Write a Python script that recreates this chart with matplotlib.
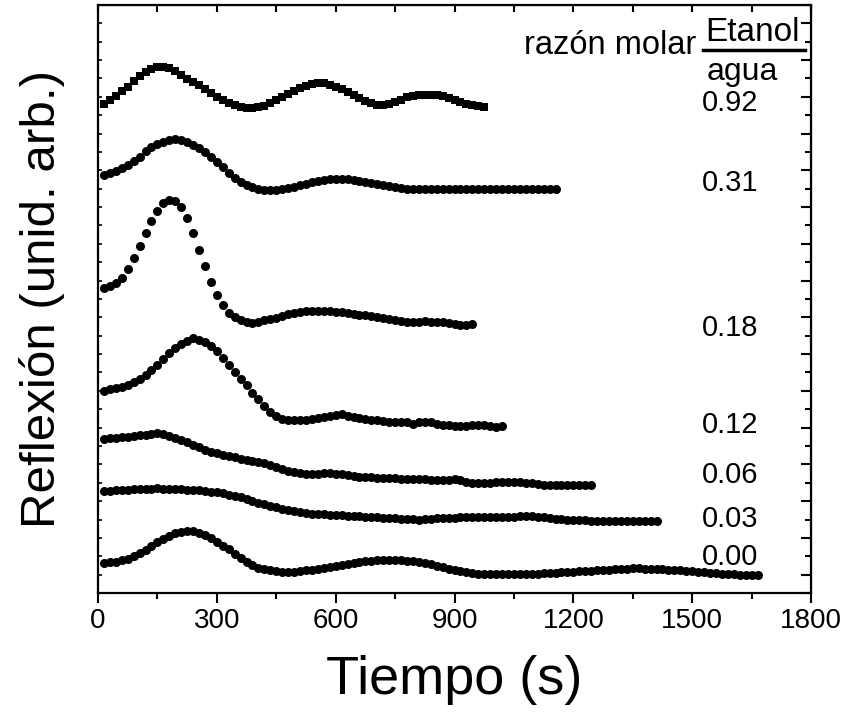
import matplotlib.pyplot as plt
import numpy as np
from matplotlib.ticker import FixedLocator, MultipleLocator, NullFormatter

plt.rcParams['font.family'] = ['Liberation Sans', 'DejaVu Sans']

# muestreo cada 15 s, empezando en t = 15 s (unidades arbitrarias en y)
paso = 15

r092 = [489, 493, 497, 502, 506, 512, 517, 521, 524, 526, 526, 525, 522, 518, 514,
        511, 508, 504, 500, 496, 493, 490, 488, 486, 485, 485, 486, 487, 490, 493,
        496, 499, 502, 505, 507, 508.5, 509.5, 509.5, 508, 506, 504, 501, 498, 495,
        492, 489.5, 488, 488, 489, 491, 493, 495.5, 497, 498, 498, 498, 497.5, 496.5,
        495, 493, 490.5, 489, 487.5, 486.5, 486]

r031 = [418, 420, 422, 425, 428, 432, 436, 442, 446, 449, 451, 453, 454, 453, 451,
        448, 445, 441, 436, 431, 426, 420, 415, 411, 408, 406, 404, 403, 403, 403,
        404, 405, 406, 408, 409, 411, 412, 413, 414, 414, 414, 414, 413, 412, 411,
        410, 409, 408, 407, 406, 405, 404, 404, 404, 404, 404, 404, 404, 404, 404,
        404, 404, 404, 404, 404, 404, 404, 404, 404, 404, 404, 404, 404, 404, 404,
        404, 404]

r018 = [305, 307, 310, 315, 324, 335, 347, 360, 372, 382, 390, 393, 392, 386, 375,
        360, 343, 327, 311, 298, 288, 280, 276, 273, 271, 270, 271, 273, 274, 275,
        277, 279, 280, 281, 282, 282, 282, 282, 282, 281, 281, 280, 279, 278, 278,
        277, 276, 275, 274, 273, 272, 271, 271, 271, 272, 271, 271, 271, 270, 269,
        268, 268, 269]

r012 = [202, 204, 205, 206, 208, 211, 214, 218, 223, 228, 234, 240, 245, 249, 252,
        255, 253, 251, 247, 242, 235, 228, 221, 214, 208, 200, 194, 187, 181, 177,
        174, 173, 173, 173, 173, 174, 175, 176, 177, 178, 179, 177, 176, 175, 174,
        173, 173, 172, 171, 171, 171, 171, 169, 171, 171, 171, 169, 168, 168, 167,
        167, 167, 168, 168, 168, 167, 166, 167]

r006 = [154, 155, 155, 156, 156, 157, 158, 158, 159, 160, 159, 157, 155, 153, 151,
        148, 146, 143, 141, 140, 138, 137, 136, 134, 133, 132, 131, 130, 128, 126,
        124, 122, 121, 120, 119, 119, 119, 120, 120, 119, 119, 118, 117, 116, 116,
        116, 115, 115, 115, 115, 114, 114, 114, 114, 114, 113, 113, 113, 113, 114,
        113, 111, 110, 110, 110, 110, 111, 111, 111, 111, 111, 110, 110, 109, 108,
        108, 108, 108, 108, 108, 108, 108, 108]

r003 = [102, 102.5, 103, 103, 103.5, 104, 104, 104.5, 104.5, 104.7, 104.5, 104.3, 104,
        103.7, 103.5, 103, 102.7, 102, 101.5, 101, 100, 98.5, 97.5, 96, 94, 92.5,
        90.5, 89, 87.5, 86, 84.5, 83, 82, 81, 80, 79.5, 79, 78.7, 78.3, 78, 77.7,
        77.3, 77, 76.7, 76.3, 76, 75.7, 75.3, 75, 74.7, 74.3, 74, 73.7, 73.5, 74,
        74.3, 74.7, 75, 75.3, 75.5, 75.7, 75.7, 75.7, 75.7, 75.7, 76, 76, 76.3, 76.3,
        76.5, 76.7, 76.7, 76.7, 76.3, 76, 75.5, 74.5, 74, 73.5, 73, 73, 72.7, 72.5,
        72.5, 72.3, 72.3, 72.3, 72.3, 72.2, 72.2, 72, 72, 72, 72]

r000 = [30, 31, 31.5, 33, 34.5, 37, 40, 43, 47, 51, 54, 57.5, 60, 61.5, 62.3, 61.7,
        60.5, 58, 54.7, 51, 47.5, 44, 39, 35, 31.5, 28, 25.5, 23.8, 22.8, 22, 21.5,
        21.3, 21.5, 22, 22.8, 23.5, 24.5, 25.3, 26.3, 27.5, 28.5, 29.3, 30.2, 31,
        31.7, 32.3, 32.7, 33, 33, 33, 32.8, 32.5, 31.8, 31, 30, 28.7, 27.3, 25.8,
        24.5, 23, 21.8, 20.7, 20, 19.5, 19.2, 19, 18.8, 18.7, 18.7, 18.8, 18.9, 19,
        19.2, 19.5, 19.8, 20, 20.3, 20.6, 21, 21.3, 21.7, 22.1, 22.5, 22.8, 23.1,
        23.5, 23.8, 24.1, 24.4, 24.6, 24.7, 24.5, 24.3, 24, 23.7, 23.4, 23.1, 22.6,
        22.2, 21.7, 21.2, 20.6, 20.2, 19.8, 19.4, 19, 18.8, 18.5, 18.3, 18.1, 18]

razones = ['0.92', '0.31', '0.18', '0.12', '0.06', '0.03', '0.00']
pos_etiqueta = [490, 410, 265, 168, 118, 74, 36]


def main():
    curvas = [r092, r031, r018, r012, r006, r003, r000]
    marcadores = ['s', 'o', 'o', 'o', 'o', 'o', 'o']
    tamanos = [5.5, 6.5, 6.5, 6.5, 6.5, 6.5, 6.5]

    fig = plt.figure(figsize=(8.42, 7.13), dpi=100)
    ax = fig.add_axes([0.1164, 0.1683, 0.8468, 0.8247])

    for r, m, ms in zip(curvas, marcadores, tamanos):
        t = paso * np.arange(1, len(r) + 1)
        ax.plot(t, r, linestyle='none', marker=m, color='k', markersize=ms,
                markeredgewidth=0)

    for txt, yy in zip(razones, pos_etiqueta):
        ax.text(1595, yy, txt, fontsize=21, ha='center', va='center')

    ax.text(1510, 547, 'razón molar', fontsize=23.5, ha='right', va='center')
    ax.text(1533, 560, 'Etanol', fontsize=24, ha='left', va='center')
    ax.text(1537, 521, 'agua', fontsize=23, ha='left', va='center')
    ax.plot([1527, 1785], [543, 543], color='k', lw=2.5, clip_on=False)

    ax.set_xlim(0, 1800)
    ax.set_ylim(0, 588)
    ax.set_xlabel('Tiempo (s)', fontsize=39, labelpad=15)
    ax.set_ylabel('Reflexión (unid. arb.)', fontsize=35.5, labelpad=20)

    for s in ax.spines.values():
        s.set_linewidth(1.6)

    ax.xaxis.set_major_locator(MultipleLocator(300))
    ax.xaxis.set_minor_locator(MultipleLocator(150))
    ax.tick_params(axis='x', which='major', direction='out', length=7, width=1.5,
                   labelsize=20, pad=4)
    ax.tick_params(axis='x', which='minor', direction='out', length=4, width=1.5)

    ax.yaxis.set_major_locator(FixedLocator(np.arange(0, 589, 18.375)))
    ax.yaxis.set_major_formatter(NullFormatter())
    ax.tick_params(axis='y', which='major', direction='in', length=3, width=1.2)

    arriba = ax.secondary_xaxis('top')
    arriba.xaxis.set_major_locator(MultipleLocator(150))
    arriba.xaxis.set_major_formatter(NullFormatter())
    arriba.tick_params(direction='in', length=5, width=1.5)

    derecha = ax.secondary_yaxis('right')
    derecha.yaxis.set_major_locator(FixedLocator(np.arange(18.375, 589, 36.75)))
    derecha.yaxis.set_minor_locator(FixedLocator(np.arange(0, 589, 36.75)))
    derecha.yaxis.set_major_formatter(NullFormatter())
    derecha.tick_params(which='major', direction='in', length=7, width=1.5)
    derecha.tick_params(which='minor', direction='in', length=4, width=1.5)

    fig.savefig('out.png', dpi=100)


if __name__ == "__main__":
    main()
